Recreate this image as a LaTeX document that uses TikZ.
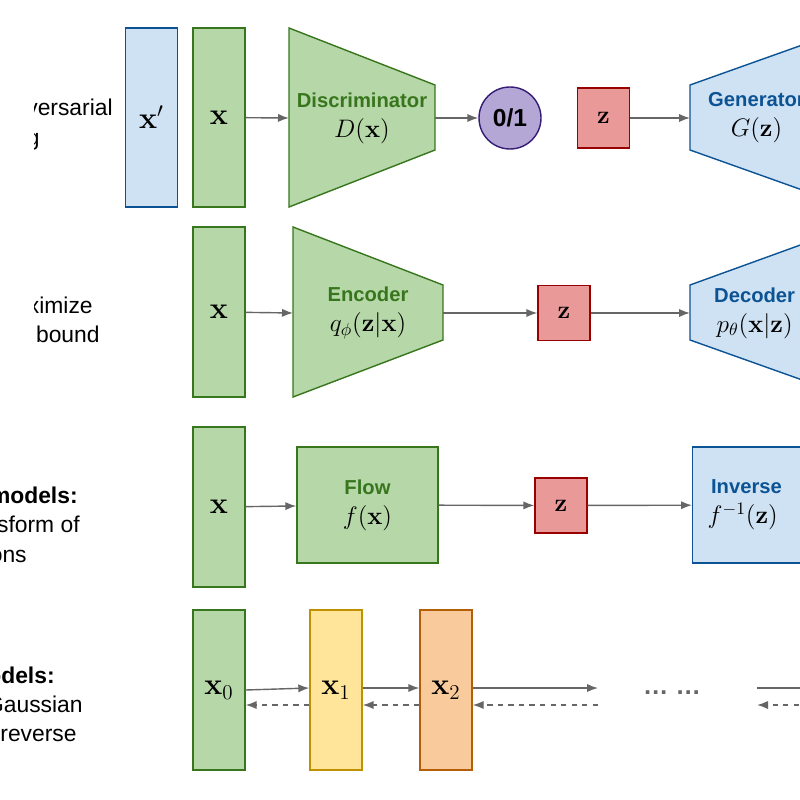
\documentclass[tikz,border=0pt]{standalone}
\usepackage{amsmath}
\usepackage[no-math]{fontspec}
\setmainfont{Liberation Sans}
\usetikzlibrary{positioning,arrows.meta}
\definecolor{gfill}{HTML}{B6D7A8}\definecolor{gline}{HTML}{38761D}
\definecolor{bfill}{HTML}{CFE2F3}\definecolor{bline}{HTML}{0B5394}
\definecolor{rfill}{HTML}{EA9999}\definecolor{rline}{HTML}{990000}
\definecolor{pfill}{HTML}{B4A7D6}\definecolor{pline}{HTML}{351C75}
\definecolor{yfill}{HTML}{FFE599}\definecolor{yline}{HTML}{BF9000}
\definecolor{ofill}{HTML}{F9CB9C}\definecolor{oline}{HTML}{B45F06}
\definecolor{arr}{HTML}{666666}
\newcommand{\fn}[1]{\textcolor{black}{\Large$#1$}}
\tikzset{
  every node/.style={font=\fontsize{11.5}{14}\selectfont},
  var/.style={draw=#1line, fill=#1fill, thick, minimum width=1.04cm, inner sep=0pt, font=\LARGE},
  lbl/.style={anchor=base east, inner sep=0pt, font=\fontsize{13}{16}\selectfont},
  net/.style={draw=#1line, fill=#1fill, thick},
  nettext/.style={align=center, text=#1line, font=\fontsize{11.5}{17}\selectfont},
  link/.style={arr, thick, -{Latex[length=2.2mm]}},
  back/.style={arr, thick, dashed, -{Latex[length=2.2mm]}},
}
\begin{document}
\begin{tikzpicture}[x=0.02cm, y=-0.02cm]
\useasboundingbox (0,0) rectangle (800,800);
\clip (0,0) rectangle (800,800);
% left labels
\begin{scope}
\clip (34,0) rectangle (120,400);
\node[lbl] at (113,116) {\textbf{GAN:} Adversarial};
\node[lbl] at (40,146) {training};
\node[lbl] at (93,313) {\textbf{VAE:} maximize};
\node[lbl] at (100,342) {variational lower bound};
\end{scope}
\node[lbl] at (78,503) {\textbf{Flow-based models:}};
\node[lbl] at (80,532) {Invertible transform of};
\node[lbl] at (27,562) {distributions};
\node[lbl] at (55,683) {\textbf{Diffusion models:}};
\node[lbl] at (83,712) {Gradually add Gaussian};
\node[lbl] at (77,741) {noise and then reverse};

% GAN
\node[var=b, minimum height=3.58cm] (xp) at (151.5,117.5) {$\mathbf{x}'$};
\node[var=g, minimum height=3.58cm] (xg) at (219,117.5) {$\mathbf{x}$};
\draw[net=g] (289,28) -- (435,85) -- (435,150) -- (289,207) -- cycle;
\coordinate (dl) at (289,118); \coordinate (dr) at (435,118);
\node[nettext=g] (disc) at (362,118) {\textbf{Discriminator}\\\fn{D(\mathbf{x})}};
\node[circle, draw=pline, fill=pfill, thick, minimum size=1.24cm, font=\fontsize{14}{14}\selectfont\bfseries] (out) at (510,118) {0/1};
\node[var=r, minimum height=1.2cm, font=\Large] (zg) at (603.5,118) {$\mathbf{z}$};
\draw[net=b] (690,85) -- (690,150) -- (850,207) -- (850,28) -- cycle;
\coordinate (gl) at (690,118);
\node[nettext=b, anchor=west] (gen) at (702,118) {\textbf{Generator}\\\fn{G(\mathbf{z})}};
\draw[link] (xg) -- (dl);
\draw[link] (dr) -- (out);
\draw[link] (zg) -- (gl);

% VAE
\node[var=g, minimum height=3.4cm] (xv) at (219,312) {$\mathbf{x}$};
\draw[net=g] (293,227) -- (443,285) -- (443,340) -- (293,397) -- cycle;
\coordinate (el) at (293,313); \coordinate (er) at (443,313);
\node[nettext=g] (enc) at (368,313) {\textbf{Encoder}\\\fn{q_\phi(\mathbf{z}|\mathbf{x})}};
\node[var=r, minimum height=1.1cm, font=\Large] (zv) at (564,313) {$\mathbf{z}$};
\draw[net=b] (690,285) -- (690,340) -- (850,397) -- (850,227) -- cycle;
\coordinate (decl) at (690,313);
\node[nettext=b, anchor=west] (dec) at (708,313) {\textbf{Decoder}\\\fn{p_\theta(\mathbf{x}|\mathbf{z})}};
\draw[link] (xv) -- (el);
\draw[link] (er) -- (zv);
\draw[link] (zv) -- (decl);

% Flow
\node[var=g, minimum height=3.2cm] (xf) at (219,507) {$\mathbf{x}$};
\node[net=g, minimum width=2.82cm, minimum height=2.32cm, nettext=g] (flow) at (367.5,505) {\textbf{Flow}\\\fn{f(\mathbf{x})}};
\node[var=r, minimum height=1.1cm, font=\Large] (zf) at (561,505.5) {$\mathbf{z}$};
\node[net=b, minimum width=3.2cm, minimum height=2.32cm, anchor=west, nettext=b, text width=2.6cm, align=left] (inv) at (692,505) {\,\textbf{Inverse}\\\fn{f^{-1}(\mathbf{z})}};
\draw[link] (xf) -- (flow);
\draw[link] (flow) -- (zf);
\draw[link] (zf) -- (inv);

% Diffusion
\node[var=g, minimum height=3.2cm] (x0) at (219,690) {$\mathbf{x}_0$};
\node[var=y, minimum height=3.2cm] (x1) at (336,690) {$\mathbf{x}_1$};
\node[var=o, minimum height=3.2cm] (x2) at (446,690) {$\mathbf{x}_2$};
\coordinate (fe) at (598,688); \coordinate (be) at (598,705);
\coordinate (fs) at (757,688); \coordinate (bs) at (820,705);
\node[text=arr, font=\Large\bfseries] (dots) at (672,693) {\dots\ \dots};
\draw[link] (x0.east |- 0,690) -- (x1.west |- 0,688);
\draw[link] (x1.east |- 0,688) -- (x2.west |- 0,688);
\draw[link] (x2.east |- 0,688) -- (fe);
\draw[link] (fs) -- (820,688);
\draw[back] (x1.west |- 0,705) -- (x0.east |- 0,705);
\draw[back] (x2.west |- 0,705) -- (x1.east |- 0,705);
\draw[back] (be) -- (x2.east |- 0,705);
\draw[back] (bs) -- (757,705);
\end{tikzpicture}
\end{document}
